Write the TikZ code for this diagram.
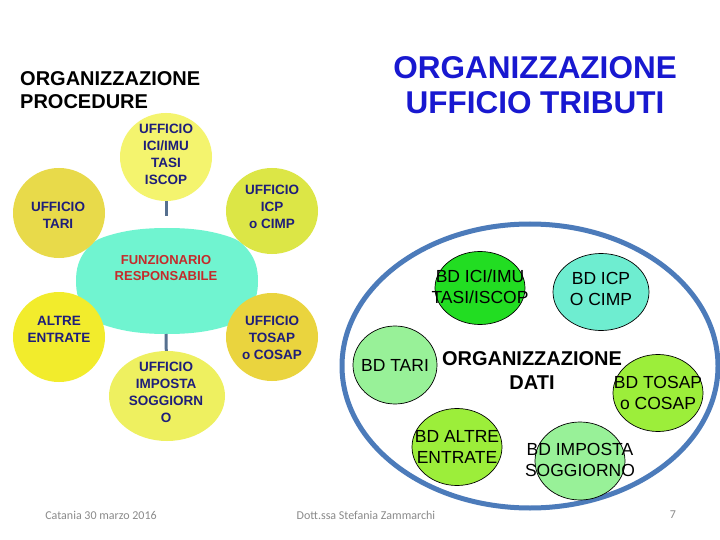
\documentclass[tikz,border=0pt]{standalone}
\usepackage{fontspec}
\setmainfont{Liberation Sans}
\newfontfamily\carl{Carlito}
\usetikzlibrary{shapes.geometric}
\definecolor{navy}{HTML}{1E1E7A}
\definecolor{frred}{HTML}{C42B2B}
\definecolor{cloudc}{HTML}{70F4D0}
\definecolor{ctari}{HTML}{E8DA4A}
\definecolor{cici}{HTML}{F4F46E}
\definecolor{cicp}{HTML}{DCE646}
\definecolor{caltre}{HTML}{F2EC2C}
\definecolor{ctosap}{HTML}{EAD43E}
\definecolor{cimp}{HTML}{EEF060}
\definecolor{ringc}{HTML}{4C7BBA}
\definecolor{bddark}{HTML}{22DD22}
\definecolor{bdturq}{HTML}{6EEDD0}
\definecolor{bdlight}{HTML}{98F198}
\definecolor{bdyg}{HTML}{9CEE3A}
\definecolor{tblue}{HTML}{1818D0}
\definecolor{connc}{HTML}{56708F}
\definecolor{footc}{HTML}{8A8A8A}
\tikzset{
  ycirc/.style={ellipse, inner sep=0pt, draw=none},
  ytxt/.style={text=navy, font=\bfseries\fontsize{13.5}{17}\selectfont, align=center, inner sep=0pt},
  bdcirc/.style={ellipse, inner sep=0pt, draw=black, line width=0.7pt},
  bdtxt/.style={text=black, font=\fontsize{17.5}{21}\selectfont, align=center, inner sep=0pt},
  conn/.style={draw=connc, line width=3pt},
  foot/.style={text=footc, font=\carl\fontsize{12}{14}\selectfont, inner sep=0pt}
}
\begin{document}
\begin{tikzpicture}[x=1pt,y=-1pt]
\useasboundingbox[fill=white] (0,0) rectangle (720,540);

% titles
\node[anchor=west, align=left, inner sep=0pt, font=\bfseries\fontsize{20}{23}\selectfont] (tleft) at (20,90) {ORGANIZZAZIONE\\PROCEDURE};
\node[align=center, inner sep=0pt, text=tblue, font=\bfseries\fontsize{31.5}{35}\selectfont] (tright) at (535,85) {ORGANIZZAZIONE\\UFFICIO TRIBUTI};

% left cluster
\path[fill=cloudc] plot[smooth cycle, tension=0.7] coordinates {(258,281) (248,250) (220,234) (167,228) (114,234) (86,250) (76,281) (86,312) (114,328) (167,334) (220,328) (248,312)};
\coordinate (cltop) at (166,228);
\coordinate (clbot) at (166,334);
\node[text=frred, font=\bfseries\fontsize{13}{16}\selectfont, align=center, inner sep=0pt] (fr) at (166,268) {FUNZIONARIO\\RESPONSABILE};

\node[ycirc, fill=ctari, minimum width=92pt, minimum height=90pt] (tari) at (59,213) {};
\node[ytxt] (taritxt) at (58,215) {UFFICIO\\TARI};
\node[ycirc, fill=cici, minimum width=92pt, minimum height=88pt] (ici) at (166,157) {};
\node[ytxt] (icitxt) at (166,154) {UFFICIO\\ICI/IMU\\TASI\\ISCOP};
\node[ycirc, fill=cicp, minimum width=92pt, minimum height=86pt] (icp) at (272,211) {};
\node[ytxt] (icptxt) at (272,207) {UFFICIO\\ICP\\o CIMP};
\node[ycirc, fill=caltre, minimum width=92pt, minimum height=90pt] (altre) at (59,337) {};
\node[ytxt] (altretxt) at (59,329) {ALTRE\\ENTRATE};
\node[ycirc, fill=ctosap, minimum width=92pt, minimum height=88pt] (tosap) at (272,337) {};
\node[ytxt] (tosaptxt) at (272,338) {UFFICIO\\TOSAP\\o COSAP};
\node[ycirc, fill=cimp, minimum width=116pt, minimum height=90pt] (imp) at (167,396) {};
\node[ytxt] (imptxt) at (166,392) {UFFICIO\\IMPOSTA\\SOGGIORN\\O};

\draw[conn, shorten >=12pt] (ici) -- (cltop);
\draw[conn] (clbot) -- (imp);

% right cluster
\node[ellipse, draw=ringc, line width=5pt, minimum width=376pt, minimum height=284pt, inner sep=0pt] (ring) at (530,366) {};
\node[bdcirc, fill=bddark, minimum width=90pt, minimum height=73pt] (bdici) at (480,288) {};
\node[bdtxt] (bdicitxt) at (480,287) {BD ICI/IMU\\TASI/ISCOP};
\node[bdcirc, fill=bdturq, minimum width=96pt, minimum height=77pt] (bdicp) at (601,292) {};
\node[bdtxt] (bdicptxt) at (601,289) {BD ICP\\O CIMP};
\node[bdcirc, fill=bdlight, minimum width=84pt, minimum height=78pt] (bdtari) at (395,365) {};
\node[bdtxt] (bdtaritxt) at (395,365) {BD TARI};
\node[bdcirc, fill=bdyg, minimum width=90pt, minimum height=77pt] (bdtosap) at (658,393) {};
\node[bdtxt] (bdtosaptxt) at (658,393) {BD TOSAP\\o COSAP};
\node[bdcirc, fill=bdyg, minimum width=90pt, minimum height=77pt] (bdaltre) at (457,447) {};
\node[bdtxt] (bdaltretxt) at (457,447) {BD ALTRE\\ENTRATE};
\node[bdcirc, fill=bdlight, minimum width=90pt, minimum height=78pt] (bdimp) at (580,461) {};
\node[bdtxt] (bdimptxt) at (580,460) {BD IMPOSTA\\SOGGIORNO};
\node[align=center, inner sep=0pt, font=\bfseries\fontsize{20}{24}\selectfont] (dati) at (532,371) {ORGANIZZAZIONE\\DATI};

% footer
\node[foot] (f1) at (101,515) {Catania 30 marzo 2016};
\node[foot] (f2) at (366,515) {Dott.ssa Stefania Zammarchi};
\node[foot] (f3) at (673,515) {7};
\end{tikzpicture}
\end{document}
